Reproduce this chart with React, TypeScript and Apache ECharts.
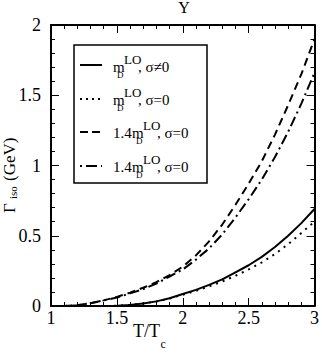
import React, { useEffect, useRef } from "react";
import * as echarts from "echarts";

const temps = [1.0, 1.1, 1.2, 1.3, 1.4, 1.5, 1.6, 1.7, 1.8, 1.9, 2.0, 2.1, 2.2, 2.3, 2.4, 2.5, 2.6, 2.7, 2.8, 2.9, 3.0];
const mdSigmaNonZero = [0, 0, 0, 0, 0, 0.002, 0.008, 0.018, 0.033, 0.055, 0.085, 0.115, 0.15, 0.19, 0.24, 0.29, 0.35, 0.42, 0.5, 0.59, 0.69];
const mdSigmaZero = [0, 0, 0, 0, 0, 0.002, 0.008, 0.018, 0.032, 0.053, 0.08, 0.108, 0.14, 0.175, 0.215, 0.26, 0.31, 0.37, 0.44, 0.52, 0.6];
const md14Dashed = [0, 0, 0.005, 0.02, 0.04, 0.065, 0.095, 0.13, 0.17, 0.22, 0.28, 0.36, 0.46, 0.58, 0.72, 0.87, 1.03, 1.22, 1.43, 1.65, 1.9];
const md14DashDot = [0, 0, 0.005, 0.02, 0.04, 0.06, 0.09, 0.12, 0.16, 0.21, 0.26, 0.33, 0.41, 0.51, 0.63, 0.76, 0.9, 1.06, 1.24, 1.44, 1.66];
const xTicks = [1, 1.5, 2, 2.5, 3];
const yTicks = [0, 0.5, 1, 1.5, 2];

const FONT = "Liberation Serif";

const pairs = (ys: number[]) => temps.map((t, i) => [t, ys[i]]);

function legendRow(prefix: string, prefixW: number, suffix: string, baseline: number) {
  const x0 = 113;
  const els: any[] = [];
  if (prefix) {
    els.push({ type: "text", x: x0, y: baseline - 5.25, style: { text: prefix, font: `15px '${FONT}'`, fill: "#000", align: "left", verticalAlign: "middle" } });
  }
  const mx = x0 + prefixW;
  els.push({ type: "text", x: mx, y: baseline - 5.25, style: { text: "m", font: `15px '${FONT}'`, fill: "#000", align: "left", verticalAlign: "middle" } });
  els.push({ type: "text", x: mx + 4, y: baseline + 3, style: { text: "D", font: `9px '${FONT}'`, fill: "#000", align: "left", verticalAlign: "middle" } });
  els.push({ type: "text", x: mx + 11, y: baseline - 13, style: { text: "LO", font: `13px '${FONT}'`, fill: "#000", align: "left", verticalAlign: "middle" } });
  els.push({ type: "text", x: mx + 25, y: baseline - 5.25, style: { text: suffix, font: `15px '${FONT}'`, fill: "#000", align: "left", verticalAlign: "middle" } });
  return els;
}

export default function App() {
  const ref = useRef<HTMLDivElement>(null);
  useEffect(() => {
    if (!ref.current) return;
    const chart = echarts.init(ref.current, null, { renderer: "svg" });
    const axisCommon = {
      min: 1,
      max: 3,
      interval: 0.5,
      axisLine: { show: true, onZero: false, lineStyle: { color: "#000", width: 2 } },
      axisTick: { show: true, inside: true, length: 8, lineStyle: { color: "#000", width: 1 } },
      minorTick: { show: true, splitNumber: 5, length: 4, lineStyle: { color: "#000", width: 1 } },
      splitLine: { show: false },
    };
    const yCommon = { ...axisCommon, min: 0, max: 2 };
    const labelStyle = { color: "#000", fontFamily: FONT, fontSize: 18 };

    const lineSeries = (data: number[], dash: any) => ({
      type: "line",
      data: pairs(data),
      showSymbol: false,
      symbol: "none",
      lineStyle: { color: "#000", width: 2, type: dash },
      xAxisIndex: 0,
      yAxisIndex: 0,
    });

    const legendLines = [
      { y: 65, dash: "solid" as any },
      { y: 99, dash: [2, 4] },
      { y: 132, dash: [8, 4] },
      { y: 166, dash: [2, 4, 11, 4] },
    ];

    chart.setOption({
      animation: false,
      backgroundColor: "#fff",
      grid: { left: 51, right: 6, top: 25, bottom: 48, containLabel: false },
      xAxis: [
        {
          ...axisCommon,
          type: "value",
          position: "bottom",
          axisLabel: { ...labelStyle, margin: 3, formatter: (v: number) => (xTicks.includes(v) ? String(v) : "") },
        },
        { ...axisCommon, type: "value", position: "top", axisLabel: { show: false } },
      ],
      yAxis: [
        {
          ...yCommon,
          type: "value",
          position: "left",
          axisLabel: { ...labelStyle, margin: 10, formatter: (v: number) => (yTicks.includes(v) ? String(v) : "") },
        },
        { ...yCommon, type: "value", position: "right", axisLabel: { show: false } },
      ],
      series: [
        lineSeries(mdSigmaNonZero, "solid"),
        lineSeries(mdSigmaZero, [2, 5]),
        lineSeries(md14Dashed, [8, 5]),
        lineSeries(md14DashDot, [10, 4, 2, 4]),
      ],
      graphic: [
        { type: "text", x: 184, y: 7.5, style: { text: "Y", font: `16px '${FONT}'`, fill: "#000", align: "center", verticalAlign: "middle" } },
        // x axis name
        { type: "text", x: 133, y: 330.5, style: { text: "T/T", font: `18px '${FONT}'`, fill: "#000", align: "left", verticalAlign: "middle" } },
        { type: "text", x: 160.5, y: 344, style: { text: "c", font: `12px '${FONT}'`, fill: "#000", align: "left", verticalAlign: "middle" } },
        // y axis name (rotated)
        { type: "text", x: 9, y: 213, rotation: Math.PI / 2, style: { text: "Γ", font: `17px '${FONT}'`, fill: "#000", align: "left", verticalAlign: "middle" } },
        { type: "text", x: 12.5, y: 199, rotation: Math.PI / 2, style: { text: "iso", font: `11px '${FONT}'`, fill: "#000", align: "left", verticalAlign: "middle" } },
        { type: "text", x: 9, y: 181, rotation: Math.PI / 2, style: { text: "(GeV)", font: `17px '${FONT}'`, fill: "#000", align: "left", verticalAlign: "middle" } },
        // legend box
        { type: "rect", shape: { x: 74, y: 45, width: 133, height: 138 }, style: { fill: "#fff", stroke: "#000", lineWidth: 1.5 }, z: 10 },
        ...legendLines.map((l) => ({
          type: "line",
          shape: { x1: 80, y1: l.y, x2: 102, y2: l.y },
          style: { stroke: "#000", lineWidth: 2, lineDash: l.dash === "solid" ? null : l.dash },
          z: 11,
        })),
        ...[
          ...legendRow("", 0, ", σ≠0", 72),
          ...legendRow("", 0, ", σ=0", 105),
          ...legendRow("1.4", 19, ", σ=0", 138),
          ...legendRow("1.4", 19, ", σ=0", 172),
        ].map((e) => ({ ...e, z: 11 })),
      ],
    });
    return () => chart.dispose();
  }, []);
  return <div ref={ref} style={{ width: 322, height: 354, position: "fixed", left: 0, top: 0 }} />;
}
